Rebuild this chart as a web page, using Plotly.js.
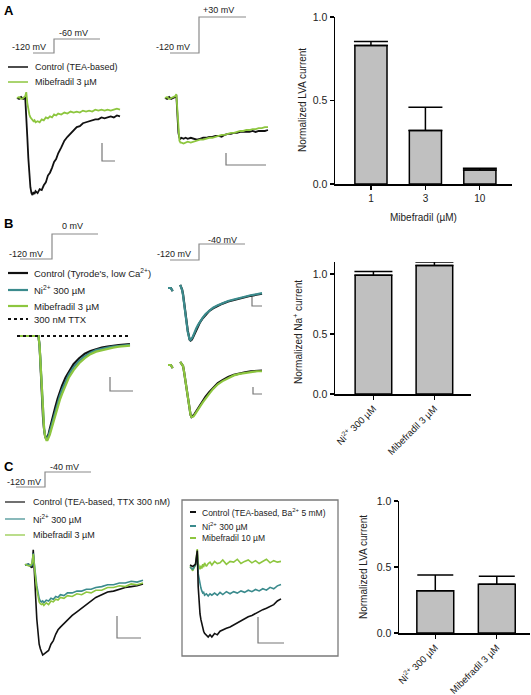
<!DOCTYPE html>
<html>
<head>
<meta charset="utf-8">
<script src="https://cdn.plot.ly/plotly-3.0.1.min.js"></script>
<style>html,body{margin:0;padding:0;background:#fff;}#plot{width:531px;height:695px;}</style>
</head>
<body>
<div id="plot"></div>
<script>
// ---------------- DATA ----------------
// Panel A, left: step to -60 mV (time, normalized current)
const tA1 = [0,2,4,6,8,9,10,11,12,13,14,15,16,17,18,20,22,24,26,28,30,32,34,36,38,40,43,46,49,52,55,58,61,64,67,70,73,76,79,82,85,88,91,94,97,100];
const ctrlA1 = [0,-0.01,0.01,-0.01,0.0,-0.15,-0.40,-0.62,-0.80,-0.92,-0.98,-1.0,-0.97,-0.99,-0.96,-0.98,-0.94,-0.95,-0.90,-0.87,-0.80,-0.77,-0.72,-0.66,-0.63,-0.57,-0.51,-0.44,-0.40,-0.37,-0.34,-0.30,-0.29,-0.26,-0.25,-0.24,-0.23,-0.22,-0.22,-0.20,-0.21,-0.20,-0.19,-0.20,-0.18,-0.19];
const mibA1 = [0.0,0.01,-0.01,0.0,0.02,0.06,-0.05,-0.12,-0.17,-0.20,-0.21,-0.22,-0.24,-0.23,-0.25,-0.24,-0.25,-0.22,-0.23,-0.20,-0.21,-0.19,-0.20,-0.17,-0.18,-0.16,-0.17,-0.15,-0.16,-0.14,-0.15,-0.14,-0.15,-0.13,-0.14,-0.13,-0.14,-0.12,-0.13,-0.12,-0.13,-0.12,-0.13,-0.12,-0.11,-0.12];
// Panel A, middle: step to +30 mV
const tA2 = [0,2,4,6,8,10,11,12,13,14,15,16,18,20,22,25,28,31,34,37,40,43,46,49,52,55,58,61,64,67,70,73,76,79,82,85,88,91,94,97,100];
const ctrlA2 = [0,-0.01,0.01,-0.01,0.0,0.01,0.03,-0.2,-0.36,-0.41,-0.42,-0.41,-0.42,-0.41,-0.42,-0.41,-0.42,-0.43,-0.42,-0.41,-0.41,-0.40,-0.40,-0.39,-0.39,-0.40,-0.38,-0.37,-0.37,-0.36,-0.36,-0.35,-0.35,-0.35,-0.35,-0.34,-0.35,-0.34,-0.34,-0.34,-0.33];
const mibA2 = [0,0.01,-0.01,0.0,0.01,0.02,0.04,-0.15,-0.35,-0.44,-0.46,-0.46,-0.47,-0.46,-0.45,-0.46,-0.45,-0.44,-0.43,-0.43,-0.42,-0.41,-0.41,-0.40,-0.39,-0.38,-0.38,-0.37,-0.36,-0.36,-0.35,-0.34,-0.34,-0.33,-0.33,-0.32,-0.32,-0.31,-0.31,-0.30,-0.30];
// Panel A, bars
const mibConc = ['1','3','10'];
const lvaA = [0.83,0.32,0.084];
const lvaAerr = [0.024,0.14,0.01];

// Panel B, left: step to 0 mV
const tB1 = [0,5,10,15,19,20,21,22,23,24,25,26,27,28,29,30,32,34,36,38,40,43,46,50,55,60,65,70,75,80,85,90,95,100];
const ctrlB1 = [0,0,0,0,0,-0.1,-0.35,-0.6,-0.8,-0.93,-1.0,-1.02,-1.0,-0.97,-0.92,-0.87,-0.79,-0.70,-0.62,-0.55,-0.49,-0.41,-0.35,-0.28,-0.22,-0.175,-0.15,-0.13,-0.115,-0.105,-0.095,-0.09,-0.085,-0.08];
const niB1 = [0,0,0,0,0,-0.1,-0.34,-0.59,-0.79,-0.92,-1.0,-1.02,-1.02,-0.99,-0.95,-0.91,-0.83,-0.74,-0.66,-0.59,-0.53,-0.45,-0.38,-0.31,-0.245,-0.2,-0.165,-0.14,-0.125,-0.115,-0.105,-0.098,-0.092,-0.088];
const mibB1 = [0,0,0,0,0,-0.1,-0.33,-0.58,-0.78,-0.92,-1.0,-1.03,-1.03,-1.01,-0.98,-0.94,-0.86,-0.78,-0.70,-0.63,-0.57,-0.48,-0.41,-0.34,-0.27,-0.22,-0.18,-0.155,-0.14,-0.125,-0.115,-0.105,-0.1,-0.095];
const tTTX = [0,100];
const ttxB1 = [0,0];
// Panel B, right: step to -40 mV
const tB2 = [0,3,5,null,13,14,15,16,17,18,19,20,21,22,23,24,25,26,27,28,30,32,34,37,40,44,48,53,58,64,70,76,82,88,94,100];
const ctrlB2 = [0,0,-0.06,null,0.06,0.02,-0.03,-0.12,-0.24,-0.38,-0.53,-0.68,-0.82,-0.93,-0.99,-1.01,-1.0,-0.97,-0.93,-0.88,-0.80,-0.73,-0.66,-0.58,-0.51,-0.44,-0.39,-0.34,-0.30,-0.26,-0.23,-0.20,-0.17,-0.15,-0.13,-0.11];
const niB2 = [0,0,-0.06,null,0.06,0.02,-0.04,-0.14,-0.26,-0.40,-0.55,-0.70,-0.84,-0.94,-0.99,-1.0,-0.98,-0.95,-0.91,-0.86,-0.78,-0.71,-0.65,-0.57,-0.50,-0.43,-0.38,-0.33,-0.29,-0.25,-0.22,-0.19,-0.16,-0.14,-0.12,-0.10];
const ctrlB2b = [0,0,-0.06,null,0.06,0.04,0.02,-0.02,-0.12,-0.25,-0.38,-0.52,-0.65,-0.77,-0.88,-0.96,-1.0,-0.99,-0.97,-0.95,-0.89,-0.83,-0.77,-0.69,-0.61,-0.52,-0.44,-0.35,-0.29,-0.23,-0.19,-0.16,-0.14,-0.12,-0.11,-0.11];
const mibB2 = [0,0,-0.06,null,0.06,0.04,0.02,-0.02,-0.12,-0.25,-0.38,-0.52,-0.65,-0.77,-0.88,-0.96,-1.0,-1.0,-0.99,-0.97,-0.92,-0.86,-0.80,-0.72,-0.64,-0.55,-0.46,-0.37,-0.31,-0.25,-0.20,-0.17,-0.15,-0.13,-0.12,-0.12];
// Panel B, bars
const drugCats = ['Ni<sup>2+</sup> 300 µM','Mibefradil 3 µM'];
const naVals = [0.99,1.07];
const naErr = [0.03,0.03];

// Panel C, left: step to -40 mV, TTX present
const tC1 = [0,3,5,6,7,8,9,10,11,12,13,14,15,16,18,20,22,24,26,28,30,33,36,40,44,48,52,56,60,65,70,75,80,85,90,95,100];
const ctrlC1 = [0,0.01,-0.02,-0.03,0.17,-0.2,-0.35,-0.6,-0.78,-0.88,-0.93,-0.97,-1.0,-0.99,-0.97,-0.95,-0.88,-0.84,-0.77,-0.72,-0.69,-0.65,-0.62,-0.56,-0.52,-0.48,-0.44,-0.40,-0.36,-0.33,-0.30,-0.29,-0.27,-0.25,-0.24,-0.23,-0.21];
const niC1 = [0,0.01,-0.01,0.0,0.13,-0.04,-0.12,-0.23,-0.32,-0.37,-0.40,-0.41,-0.40,-0.42,-0.39,-0.40,-0.37,-0.38,-0.35,-0.36,-0.33,-0.34,-0.31,-0.31,-0.29,-0.29,-0.27,-0.27,-0.25,-0.24,-0.22,-0.22,-0.20,-0.20,-0.18,-0.19,-0.17];
const mibC1 = [0.01,-0.01,0,0.02,0.12,-0.05,-0.15,-0.27,-0.36,-0.41,-0.43,-0.44,-0.43,-0.45,-0.42,-0.44,-0.40,-0.41,-0.38,-0.39,-0.36,-0.37,-0.34,-0.35,-0.32,-0.33,-0.30,-0.31,-0.28,-0.28,-0.25,-0.25,-0.23,-0.24,-0.21,-0.22,-0.20];
// Panel C, boxed: Ba2+ as charge carrier
const tC2 = [0,3,6,8,9,10,11,12,13,14,15,16,18,20,22,24,27,30,33,36,40,44,48,52,56,60,64,68,72,76,80,84,88,92,96,100];
const ctrlC2 = [0,-0.02,0.01,0.2,-0.3,-0.55,-0.68,-0.76,-0.83,-0.88,-0.92,-0.95,-0.97,-1.0,-0.97,-1.0,-0.95,-0.97,-0.92,-0.9,-0.88,-0.86,-0.83,-0.80,-0.78,-0.74,-0.72,-0.70,-0.67,-0.65,-0.62,-0.60,-0.57,-0.55,-0.50,-0.47];
const niC2 = [-0.03,-0.06,0.0,0.15,-0.12,-0.2,-0.27,-0.32,-0.36,-0.39,-0.38,-0.42,-0.40,-0.43,-0.40,-0.42,-0.39,-0.42,-0.38,-0.41,-0.37,-0.40,-0.37,-0.39,-0.36,-0.38,-0.35,-0.37,-0.34,-0.36,-0.33,-0.35,-0.31,-0.33,-0.29,-0.27];
const mibC2 = [-0.02,-0.08,0.0,0.22,0.02,-0.04,-0.06,-0.01,-0.05,0.01,-0.03,0.03,-0.02,0.02,0.04,0.0,0.05,0.02,0.03,0.07,0.01,0.05,0.04,0.08,0.02,0.05,0.07,0.03,0.06,0.02,0.05,0.08,0.03,0.06,0.04,0.05];
// Panel C, bars
const lvaC = [0.32,0.37];
const lvaCerr = [0.12,0.06];

// ---------------- STYLE / LAYOUT ----------------
const W = 531, H = 695;
const FONT = 'Liberation Sans, Arial, sans-serif';
const BLACK = '#111111', GREEN = '#8dc63f', TEAL = '#3b8b8d', GRAY = '#8a8a8a';
const px = x => x / W;
const py = y => 1 - y / H;
const xk = n => n === 1 ? 'xaxis' : 'xaxis' + n;
const yk = n => n === 1 ? 'yaxis' : 'yaxis' + n;
const xr = n => n === 1 ? 'x' : 'x' + n;
const yr = n => n === 1 ? 'y' : 'y' + n;

const layout = {
  width: W, height: H,
  margin: {l: 0, r: 0, t: 0, b: 0},
  paper_bgcolor: '#fff', plot_bgcolor: 'rgba(0,0,0,0)',
  showlegend: false,
  font: {family: FONT, color: '#222', size: 10},
  shapes: [], annotations: []
};

// trace panel axes: pixel box -> data range (time units, normalized current)
function traceAxes(n, pxL, pxR, x0, k, pyT, pyB, base, s) {
  layout[xk(n)] = {domain: [px(pxL), px(pxR)], range: [(pxL - x0) / k, (pxR - x0) / k],
    visible: false, anchor: yr(n), fixedrange: true};
  layout[yk(n)] = {domain: [py(pyB), py(pyT)], range: [-(pyB - base) / s, (base - pyT) / s],
    visible: false, anchor: xr(n), fixedrange: true};
}
traceAxes(1, 14, 124, 17, 1.03, 85, 202, 98, 97);
traceAxes(2, 160, 272, 165, 1.03, 85, 202, 98, 97);
traceAxes(4, 14, 136, 17, 1.13, 325, 445, 336, 101);
traceAxes(5, 165, 265, 168, 0.94, 278, 348, 288, 52);
traceAxes(6, 165, 265, 168, 0.94, 355, 425, 365, 52);
traceAxes(8, 22, 146, 25, 1.18, 545, 662, 565, 90);
traceAxes(9, 186, 289, 190, 0.91, 545, 652, 565, 72);

function barAxes(n, pxL, pxR, xrange, pyT, pyB, yrange, angle, xfs) {
  layout[xk(n)] = {domain: [px(pxL), px(pxR)], range: xrange, type: 'category', anchor: yr(n),
    showline: true, linewidth: 1.5, linecolor: '#000', ticks: 'outside', ticklen: 4, tickwidth: 1.2,
    tickcolor: '#000', showgrid: false, zeroline: false, tickangle: angle,
    tickfont: {family: FONT, size: xfs, color: '#222'}, fixedrange: true};
  layout[yk(n)] = {domain: [py(pyB), py(pyT)], range: yrange, anchor: xr(n),
    showline: true, linewidth: 1.5, linecolor: '#000', ticks: 'outside', ticklen: 4, tickwidth: 1.2,
    tickcolor: '#000', showgrid: false, zeroline: false, tickvals: [0, 0.5, 1], tickformat: '.1f',
    tickfont: {family: FONT, size: 10.5, color: '#222'}, fixedrange: true};
}
barAxes(3, 335, 512, [-0.66, 2.59], 17, 184, [0, 1], 0, 10);
barAxes(7, 335, 471, [-0.63, 1.6], 262, 394, [0, 1.1], -45, 9.5);
barAxes(10, 399, 530, [-0.59, 1.54], 501, 633, [0, 1], -45, 9.5);

// ---------------- TRACES ----------------
function rec(n, x, y, color, width, dash) {
  return {type: 'scatter', mode: 'lines', x: x, y: y, xaxis: xr(n), yaxis: yr(n),
    line: {color: color, width: width, dash: dash || 'solid'}, hoverinfo: 'skip', connectgaps: false};
}
function bars(n, cats, vals, errs, widthFrac, cap) {
  return {type: 'bar', x: cats, y: vals, xaxis: xr(n), yaxis: yr(n), width: widthFrac,
    marker: {color: '#c0c0c0', line: {color: '#000', width: 1.5}},
    error_y: {type: 'data', array: errs, arrayminus: errs.map(() => 0), symmetric: false,
      color: '#000', thickness: 1.5, width: cap},
    hoverinfo: 'skip'};
}

const data = [
  rec(1, tA1, ctrlA1, BLACK, 1.8),
  rec(1, tA1, mibA1, GREEN, 1.8),
  rec(2, tA2, ctrlA2, BLACK, 1.8),
  rec(2, tA2, mibA2, GREEN, 1.8),
  bars(3, mibConc, lvaA, lvaAerr, 0.59, 17),
  rec(4, tB1, ctrlB1, BLACK, 2.2),
  rec(4, tB1, niB1, TEAL, 2.2),
  rec(4, tB1, mibB1, GREEN, 2.2),
  rec(4, tTTX, ttxB1, BLACK, 2.2, 'dot'),
  rec(5, tB2, ctrlB2, BLACK, 2.2),
  rec(5, tB2, niB2, TEAL, 2.2),
  rec(6, tB2, ctrlB2b, BLACK, 2.2),
  rec(6, tB2, mibB2, GREEN, 2.2),
  bars(7, drugCats, naVals, naErr, 0.6, 19),
  rec(8, tC1, ctrlC1, BLACK, 1.6),
  rec(8, tC1, niC1, TEAL, 1.6),
  rec(8, tC1, mibC1, GREEN, 1.6),
  rec(9, tC2, mibC2, GREEN, 1.6),
  rec(9, tC2, niC2, TEAL, 1.6),
  rec(9, tC2, ctrlC2, BLACK, 1.6),
  bars(10, drugCats, lvaC, lvaCerr, 0.6, 18)
];

// ---------------- DECORATION ----------------
function pathPx(pts) {
  return pts.map((p, i) => (i ? 'L' : 'M') + px(p[0]).toFixed(5) + ',' + py(p[1]).toFixed(5)).join(' ');
}
function poly(pts, color, width, dash) {
  layout.shapes.push({type: 'path', xref: 'paper', yref: 'paper', path: pathPx(pts),
    line: {color: color, width: width, dash: dash || 'solid'}});
}
function txt(text, x, y, size, opts) {
  layout.annotations.push(Object.assign({text: text, x: px(x), y: py(y), xref: 'paper', yref: 'paper',
    xanchor: 'left', yanchor: 'middle', showarrow: false,
    font: {family: FONT, size: size, color: '#222'}}, opts || {}));
}

// panel letters
txt('<b>A</b>', 2, 10, 13, {font: {family: FONT, size: 13, color: '#000'}});
txt('<b>B</b>', 2, 224, 13, {font: {family: FONT, size: 13, color: '#000'}});
txt('<b>C</b>', 2, 466, 13, {font: {family: FONT, size: 13, color: '#000'}});

// voltage protocols
poly([[33,53],[54,53],[54,39],[100,39]], GRAY, 1.2);
txt('-120 mV', 10, 47, 9); txt('-60 mV', 57, 33, 9);
poly([[170,53],[199,53],[199,17],[246,17]], GRAY, 1.2);
txt('-120 mV', 154, 47, 9); txt('+30 mV', 201, 10, 9);
poly([[20,259],[52,259],[52,234],[98,234]], GRAY, 1.2);
txt('-120 mV', 7, 254, 9); txt('0 mV', 60, 226, 9);
poly([[170,260],[199,260],[199,244],[245,244]], GRAY, 1.2);
txt('-120 mV', 155, 254, 9); txt('-40 mV', 206, 240, 9);
poly([[16,487],[45,487],[45,472],[91,472]], GRAY, 1.2);
txt('-120 mV', 5, 482, 9); txt('-40 mV', 48, 467, 9);

// legends
poly([[8,67],[28,67]], BLACK, 1.5); txt('Control (TEA-based)', 33, 67, 9);
poly([[8,82],[28,82]], GREEN, 1.5); txt('Mibefradil 3 µM', 33, 82, 9);

poly([[8,273],[28,273]], BLACK, 2.2); txt('Control (Tyrode\'s, low Ca<sup>2+</sup>)', 32, 273, 9.5);
poly([[8,290],[28,290]], TEAL, 2.2); txt('Ni<sup>2+</sup> 300 µM', 32, 290, 9.5);
poly([[8,306],[28,306]], GREEN, 2.2); txt('Mibefradil 3 µM', 32, 306, 9.5);
poly([[8,319],[28,319]], BLACK, 2, 'dot'); txt('300 nM TTX', 32, 319, 9.5);

poly([[5,502],[25,502]], BLACK, 1.2); txt('Control (TEA-based, TTX 300 nM)', 31, 502, 9);
poly([[5,519],[25,519]], TEAL, 1.2); txt('Ni<sup>2+</sup> 300 µM', 31, 519, 9);
poly([[5,535],[25,535]], GREEN, 1.2); txt('Mibefradil 3 µM', 31, 535, 9);

layout.shapes.push({type: 'rect', xref: 'paper', yref: 'paper', x0: px(182), x1: px(338), y0: py(656), y1: py(500),
  line: {color: '#7a7a7a', width: 1.3}});
poly([[190,512],[196,512]], BLACK, 2); txt('Control (TEA-based, Ba<sup>2+</sup> 5 mM)', 200, 512, 8.5);
poly([[190,526],[196,526]], TEAL, 2); txt('Ni<sup>2+</sup> 300 µM', 200, 526, 8.5);
poly([[190,538],[196,538]], GREEN, 2); txt('Mibefradil 10 µM', 200, 538, 8.5);

// scale bars
poly([[102,143],[102,161],[115,161]], '#777', 1.2);
poly([[226,153],[226,165],[266,165]], '#777', 1.2);
poly([[110,377],[110,391],[133,391]], '#777', 1.2);
poly([[252,297],[252,306],[262,306]], '#777', 1.2);
poly([[253,387],[253,394],[262,394]], '#777', 1.2);
poly([[117,616],[117,638],[141,638]], '#777', 1.2);
poly([[258,617],[258,643],[284,643]], '#777', 1.2);

// bar chart titles
txt('Normalized LVA current', 302, 100, 10, {xanchor: 'center', textangle: -90});
txt('Mibefradil (µM)', 423, 217, 10, {xanchor: 'center'});
txt('Normalized Na<sup>+</sup> current', 298, 332, 10, {xanchor: 'center', textangle: -90});
txt('Normalized LVA current', 363, 567, 10, {xanchor: 'center', textangle: -90});

Plotly.newPlot('plot', data, layout, {staticPlot: true, displayModeBar: false});
</script>
</body>
</html>
